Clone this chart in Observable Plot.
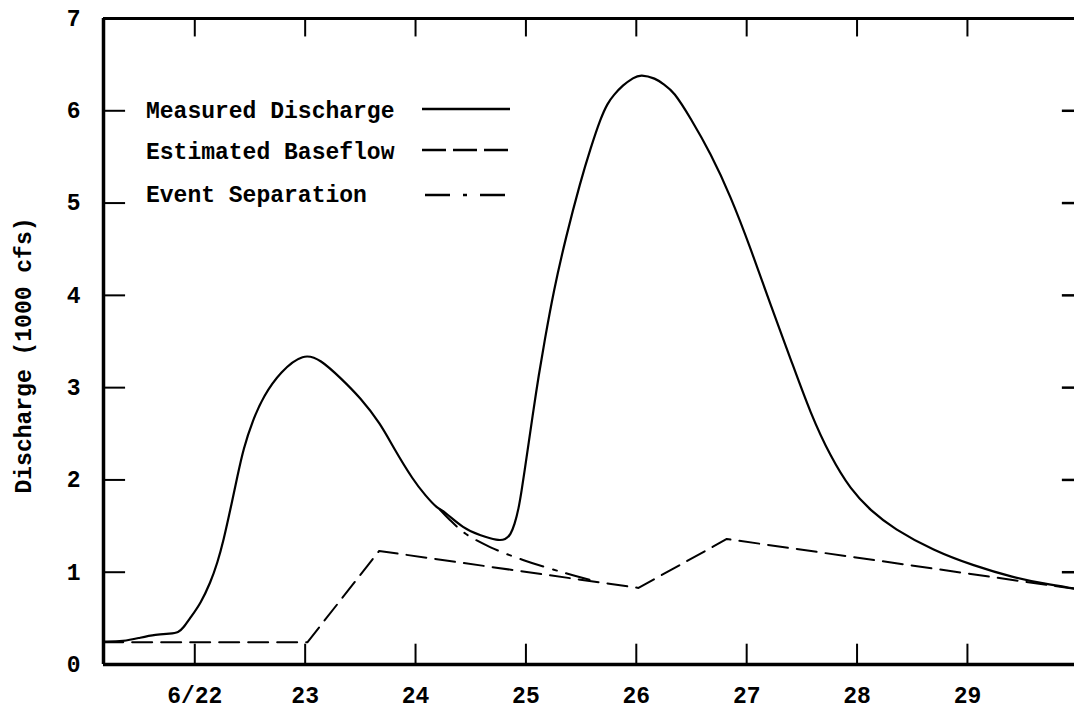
<!DOCTYPE html>
<html>
<head>
<meta charset="utf-8">
<script src="https://cdn.jsdelivr.net/npm/d3@7"></script>
<script src="https://cdn.jsdelivr.net/npm/@observablehq/plot@0.6"></script>
<style>
  html, body { margin: 0; padding: 0; background: #fff; }
  #chart { width: 1074px; height: 714px; }
</style>
</head>
<body>
<div id="chart"></div>
<script>
// ---- Data (days of June, discharge in 1000 cfs) ----
const measuredDay = [21.173, 21.354, 21.508, 21.644, 21.780, 21.852, 21.898, 21.961, 22.052, 22.142, 22.206, 22.260, 22.324, 22.387, 22.441, 22.523, 22.623, 22.777, 22.985, 23.139, 23.320, 23.501, 23.683, 23.800, 23.982, 24.091, 24.199, 24.254, 24.435, 24.590, 24.744, 24.816, 24.861, 24.897, 24.934, 24.961, 24.988, 25.024, 25.070, 25.115, 25.169, 25.251, 25.360, 25.495, 25.586, 25.677, 25.740, 25.794, 25.876, 25.975, 26.039, 26.175, 26.247, 26.338, 26.492, 26.673, 26.854, 27.035, 27.216, 27.398, 27.579, 27.760, 27.942, 28.123, 28.331, 28.694, 29.056, 29.419, 29.691, 29.970];
const measuredQ   = [0.249, 0.249, 0.292, 0.325, 0.335, 0.346, 0.400, 0.509, 0.660, 0.887, 1.104, 1.342, 1.688, 2.045, 2.340, 2.640, 2.911, 3.175, 3.375, 3.305, 3.106, 2.890, 2.608, 2.348, 1.991, 1.829, 1.688, 1.667, 1.472, 1.396, 1.342, 1.353, 1.407, 1.515, 1.688, 1.883, 2.100, 2.392, 2.771, 3.128, 3.506, 4.048, 4.621, 5.238, 5.595, 5.920, 6.082, 6.169, 6.276, 6.360, 6.395, 6.352, 6.288, 6.212, 5.920, 5.540, 5.076, 4.513, 3.896, 3.312, 2.716, 2.251, 1.894, 1.667, 1.472, 1.234, 1.071, 0.942, 0.877, 0.823];

const baseDay = [21.17, 23.02, 23.67, 26.02, 26.82, 29.97];
const baseQ   = [0.24, 0.24, 1.23, 0.83, 1.36, 0.82];

const sepDay = [24.22, 24.30, 24.45, 24.68, 24.98, 25.33, 25.60];
const sepQ   = [1.68, 1.58, 1.42, 1.27, 1.13, 1.00, 0.91];

const xTicks = [22, 23, 24, 25, 26, 27, 28, 29];
const xTickLabels = ["6/22", "23", "24", "25", "26", "27", "28", "29"];
const yTicks = [0, 1, 2, 3, 4, 5, 6, 7];
const yInnerTicks = [1, 2, 3, 4, 5, 6];
const yLabel = "Discharge (1000 cfs)";

const legendLabels = ["Measured Discharge", "Estimated Baseflow", "Event Separation"];
const legendDash = ["none", "20,9", "24,10,4,10"];

const xDomain = [21.173, 29.97];

const measured = measuredDay.map((d, i) => ({day: d, q: measuredQ[i]}));
const baseflow = baseDay.map((d, i) => ({day: d, q: baseQ[i]}));
const separation = sepDay.map((d, i) => ({day: d, q: sepQ[i]}));

const FONT = "'Liberation Mono', 'Courier New', monospace";

const plot = Plot.plot({
  width: 1074,
  height: 714,
  marginLeft: 103,
  marginRight: 0,
  marginTop: 18,
  marginBottom: 50,
  style: {fontFamily: FONT, fontSize: "23px", fontWeight: "bold", background: "#fff", color: "#000", overflow: "visible"},
  x: {domain: xDomain},
  y: {domain: [0, 7]},
  marks: [
    Plot.axisX({ticks: xTicks, tickFormat: d => xTickLabels[xTicks.indexOf(d)], tickSize: 0, tickPadding: 22, label: null, fontSize: 23}),
    Plot.axisY({ticks: yTicks, tickFormat: d => String(d), tickSize: 0, tickPadding: 23, label: null, fontSize: 23}),
    Plot.text([yLabel], {text: d => d, frameAnchor: "left", rotate: -90, dx: -80, dy: 14, textAnchor: "middle", lineAnchor: "middle", fontSize: 23}),
    // inward ticks
    Plot.ruleX(xTicks, {x: d => d, y1: 0, y2: 0.22, stroke: "#000", strokeWidth: 2}),
    Plot.ruleX(xTicks, {x: d => d, y1: 7, y2: 6.8, stroke: "#000", strokeWidth: 2}),
    Plot.ruleY(yInnerTicks, {y: d => d, x1: xDomain[0], x2: xDomain[0] + 0.2, stroke: "#000", strokeWidth: 2}),
    Plot.ruleY(yInnerTicks, {y: d => d, x1: xDomain[1] - 0.11, x2: xDomain[1], stroke: "#000", strokeWidth: 2.5}),
    // frame
    Plot.ruleY([0], {stroke: "#000", strokeWidth: 3.5}),
    Plot.ruleY([7], {stroke: "#000", strokeWidth: 3}),
    Plot.ruleX([xDomain[0]], {stroke: "#000", strokeWidth: 3.5}),
    // series
    Plot.line(baseflow, {x: "day", y: "q", stroke: "#000", strokeWidth: 2, strokeDasharray: legendDash[1]}),
    Plot.line(separation, {x: "day", y: "q", stroke: "#000", strokeWidth: 2, strokeDasharray: legendDash[2], curve: "catmull-rom"}),
    Plot.line(measured, {x: "day", y: "q", stroke: "#000", strokeWidth: 2.2, curve: "basis"})
  ]
});

// Legend inside the plot area (top-left)
const svg = d3.select(plot);
const lg = svg.append("g")
  .attr("font-family", FONT).attr("font-size", 23).attr("font-weight", "bold")
  .attr("text-anchor", "start");
const rowY = [110, 151, 194];
legendLabels.forEach((lab, i) => {
  lg.append("text").attr("x", 146).attr("y", rowY[i]).attr("dy", "0.35em")
    .attr("text-anchor", "start").attr("fill", "#000").text(lab);
  const ly = rowY[i] - 1 + (i === 2 ? 2 : 0);
  lg.append("line")
    .attr("x1", i === 2 ? 425 : 422).attr("x2", i === 2 ? 518 : 510)
    .attr("y1", ly).attr("y2", ly)
    .attr("stroke", "#000").attr("stroke-width", 2.4)
    .attr("stroke-dasharray", legendDash[i] === "none" ? null : (i === 1 ? "24,7" : "25,13,4,13"));
});

document.getElementById("chart").appendChild(plot);
</script>
</body>
</html>
